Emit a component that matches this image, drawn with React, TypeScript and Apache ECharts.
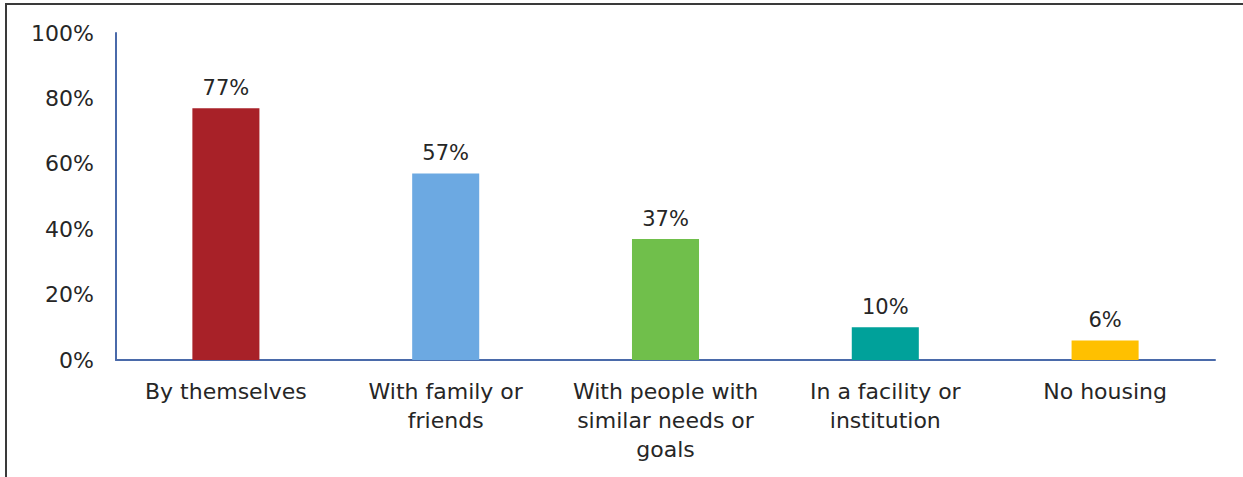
import React, { useEffect, useRef } from "react";
import * as echarts from "echarts";

const categories = [
  "By themselves",
  "With family or friends",
  "With people with similar needs or goals",
  "In a facility or institution",
  "No housing",
];
const categoryLines = [
  ["By themselves"],
  ["With family or", "friends"],
  ["With people with", "similar needs or", "goals"],
  ["In a facility or", "institution"],
  ["No housing"],
];
const values = [77, 57, 37, 10, 6];
const barColors = ["#A82128", "#6CA9E2", "#70BF4B", "#00A19A", "#FFC000"];
const yTicks = [0, 20, 40, 60, 80, 100];

export default function App() {
  const ref = useRef<HTMLDivElement>(null);
  useEffect(() => {
    if (!ref.current) return;
    const chart = echarts.init(ref.current, null, { renderer: "svg" });
    const font = "DejaVu Sans, Verdana, sans-serif";
    chart.setOption({
      animation: false,
      backgroundColor: "#ffffff",
      graphic: [
        {
          type: "rect",
          shape: { x: 6, y: 4, width: 1300, height: 500 },
          style: { fill: "none", stroke: "#3a3a3a", lineWidth: 2 },
          silent: true,
          z: 100,
        },
      ],
      grid: { left: 116, top: 33, right: 28, bottom: 117, containLabel: false },
      xAxis: {
        type: "category",
        data: categories,
        axisLine: { show: true, lineStyle: { color: "#4A6AAA", width: 2 } },
        axisTick: { show: false },
        axisLabel: {
          interval: 0,
          margin: 17,
          color: "#262626",
          fontFamily: font,
          fontSize: 22,
          lineHeight: 29,
          formatter: (_v: string, i: number) => categoryLines[i].join("\n"),
        },
      },
      yAxis: {
        type: "value",
        min: 0,
        max: 100,
        interval: 20,
        axisLine: { show: true, lineStyle: { color: "#4A6AAA", width: 2 } },
        axisTick: { show: false },
        splitLine: { show: false },
        axisLabel: {
          margin: 22,
          color: "#262626",
          fontFamily: font,
          fontSize: 22,
          formatter: (v: number) => (yTicks.includes(v) ? v + "%" : ""),
        },
      },
      series: [
        {
          type: "bar",
          barWidth: "30.5%",
          data: values.map((v, i) => ({ value: v, itemStyle: { color: barColors[i] } })),
          label: {
            show: true,
            position: "top",
            distance: 10,
            color: "#262626",
            fontFamily: font,
            fontSize: 21,
            formatter: (p: any) => p.value + "%",
          },
        },
      ],
    });
    return () => chart.dispose();
  }, []);
  return (
    <div
      ref={ref}
      style={{ position: "absolute", left: 0, top: 0, width: 1243, height: 477 }}
    />
  );
}
